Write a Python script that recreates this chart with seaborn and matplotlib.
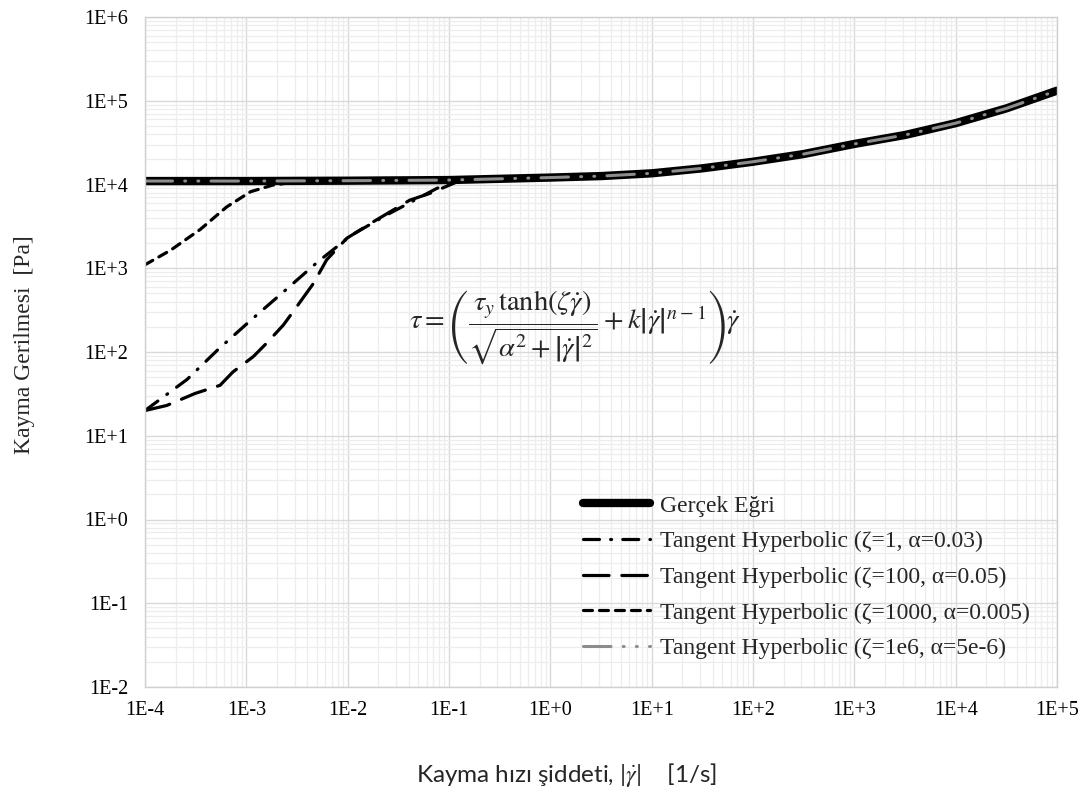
import numpy as np
import pandas as pd
import matplotlib
matplotlib.use("Agg")
import matplotlib.pyplot as plt
import seaborn as sns
from matplotlib.lines import Line2D

# ---------------- data ----------------
x_real = [1e-4, 1e-3, 1e-2, 1e-1, 1e0, 3.16e0, 1e1, 3.16e1, 1e2, 3.16e2, 1e3, 3.16e3, 1e4, 3.16e4, 1e5]
y_real = [1.10e4, 1.10e4, 1.11e4, 1.13e4, 1.21e4, 1.26e4, 1.36e4, 1.56e4, 1.87e4,
          2.31e4, 3.05e4, 3.9e4, 5.4e4, 8.1e4, 1.32e5]

x_z1 = [1e-4, 2.6e-4, 5.3e-4, 1.13e-3, 2.4e-3, 5.1e-3, 1.1e-2, 2.4e-2, 7.6e-2, 1.3e-1,
        1e0, 1e1, 1e2, 1e3, 1e4, 1e5]
y_z1 = [20, 47, 108, 245, 540, 1.2e3, 2.5e3, 4.3e3, 9.0e3, 1.12e4,
        1.21e4, 1.36e4, 1.87e4, 3.05e4, 5.4e4, 1.32e5]

x_z100 = [1e-4, 1.64e-4, 3.12e-4, 5.5e-4, 7.4e-4, 1.17e-3, 1.58e-3, 2.32e-3, 3.14e-3,
          4.6e-3, 6.2e-3, 9.8e-3, 1.8e-2, 4.1e-2, 6.5e-2, 1.3e-1,
          1e0, 1e1, 1e2, 1e3, 1e4, 1e5]
y_z100 = [20, 23, 32, 40, 58, 88, 127, 210, 347, 660, 1.26e3, 2.28e3, 3.6e3, 6.5e3,
          7.85e3, 1.12e4, 1.21e4, 1.36e4, 1.87e4, 3.05e4, 5.4e4, 1.32e5]

x_z1000 = [1e-4, 1.8e-4, 3.5e-4, 6.4e-4, 1.1e-3, 1.8e-3, 3e-3, 1e-2, 1e-1,
           1e0, 1e1, 1e2, 1e3, 1e4, 1e5]
y_z1000 = [1.1e3, 1.65e3, 2.9e3, 5.4e3, 8.2e3, 9.8e3, 1.07e4, 1.11e4, 1.13e4,
           1.21e4, 1.36e4, 1.87e4, 3.05e4, 5.4e4, 1.32e5]

x_z1e6 = x_real
y_z1e6 = y_real

labels = ["Gerçek Eğri",
          "Tangent Hyperbolic (ζ=1, α=0.03)",
          "Tangent Hyperbolic (ζ=100, α=0.05)",
          "Tangent Hyperbolic (ζ=1000, α=0.005)",
          "Tangent Hyperbolic (ζ=1e6, α=5e-6)"]

x_ticks = [1e-4, 1e-3, 1e-2, 1e-1, 1e0, 1e1, 1e2, 1e3, 1e4, 1e5]
x_ticklabels = ["1E-4", "1E-3", "1E-2", "1E-1", "1E+0", "1E+1", "1E+2", "1E+3", "1E+4", "1E+5"]
y_ticks = [1e-2, 1e-1, 1e0, 1e1, 1e2, 1e3, 1e4, 1e5, 1e6]
y_ticklabels = ["1E-2", "1E-1", "1E+0", "1E+1", "1E+2", "1E+3", "1E+4", "1E+5", "1E+6"]

# ---------------- style ----------------
sns.set_theme(style="white")
plt.rcParams["font.family"] = ["Liberation Serif", "DejaVu Serif"]
plt.rcParams["mathtext.fontset"] = "stix"

fig = plt.figure(figsize=(10.89, 8.0), dpi=100)
ax = fig.add_axes([145/1089, 1-687/800, (1057-145)/1089, (687-17)/800])
ax.set_xscale("log")
ax.set_yscale("log")

styles = {
    "z1": dict(color="black", lw=2.3, linestyle=(0, (5, 3.5, 0.3, 3.5)), dash_capstyle="round"),
    "z100": dict(color="black", lw=2.3, linestyle=(0, (8, 4)), dash_capstyle="round"),
    "z1000": dict(color="black", lw=2.3, linestyle=(0, (2.8, 2.2)), dash_capstyle="round"),
    "real": dict(color="black", lw=6.0, linestyle="-", solid_capstyle="round"),
    "z1e6": dict(color="#8c8c8c", lw=2.2, linestyle=(0, (9, 4, 0.3, 4, 0.3, 4)), dash_capstyle="round"),
}

series = [("z1", x_z1, y_z1), ("z100", x_z100, y_z100), ("z1000", x_z1000, y_z1000),
          ("real", x_real, y_real), ("z1e6", x_z1e6, y_z1e6)]
for key, xs, ys in series:
    df = pd.DataFrame({"x": xs, "y": ys})
    sns.lineplot(data=df, x="x", y="y", ax=ax, estimator=None, sort=True, **styles[key])

ax.set_xlim(1e-4, 1e5)
ax.set_ylim(1e-2, 1e6)
ax.set_xticks(x_ticks)
ax.set_xticklabels(x_ticklabels)
ax.set_yticks(y_ticks)
ax.set_yticklabels(y_ticklabels)
ax.xaxis.set_minor_locator(matplotlib.ticker.LogLocator(base=10, subs=np.arange(2, 10), numticks=100))
ax.yaxis.set_minor_locator(matplotlib.ticker.LogLocator(base=10, subs=np.arange(2, 10), numticks=100))
ax.xaxis.set_minor_formatter(matplotlib.ticker.NullFormatter())
ax.yaxis.set_minor_formatter(matplotlib.ticker.NullFormatter())
ax.grid(True, which="major", color="#d9d9d9", lw=1.0)
ax.grid(True, which="minor", color="#ededed", lw=0.9)
ax.set_axisbelow(True)
ax.tick_params(which="both", length=0, labelsize=14.5, colors="black")
ax.tick_params(axis="x", pad=10)
ax.tick_params(axis="y", pad=12)
for s in ax.spines.values():
    s.set_color("#d0d0d0")
    s.set_linewidth(1.0)
ax.set_xlabel("")
ax.set_ylabel("")

fig.text(25/1089, 1-345/800, "Kayma Gerilmesi  [Pa]", rotation=90,
         ha="center", va="center", fontsize=17)
fig.text(566/1089, 1-775/800, r"Kayma hızı şiddeti, |$\dot{\gamma}$|    [1/s]",
         ha="center", va="center", fontsize=17.5, family=["Lato", "DejaVu Sans"])

ax.text(10**0.25, 10**2.3,
        r"$\tau = \left(\dfrac{\tau_y\,\tanh(\zeta\dot{\gamma})}{\sqrt{\alpha^2+\left|\dot{\gamma}\right|^2}} + k\left|\dot{\gamma}\right|^{n-1}\right)\dot{\gamma}$",
        ha="center", va="center", fontsize=20.5)

handles = []
for key in ["real", "z1", "z100", "z1000", "z1e6"]:
    handles.append(Line2D([0], [0], **styles[key]))
leg = fig.legend(handles, labels, loc="upper left", bbox_to_anchor=(583/1089, 1-495/800),
                 bbox_transform=fig.transFigure, frameon=False, fontsize=17,
                 handlelength=2.85, handletextpad=0.4, labelspacing=0.6,
                 borderpad=0, borderaxespad=0)

fig.savefig("out.png", dpi=100)
